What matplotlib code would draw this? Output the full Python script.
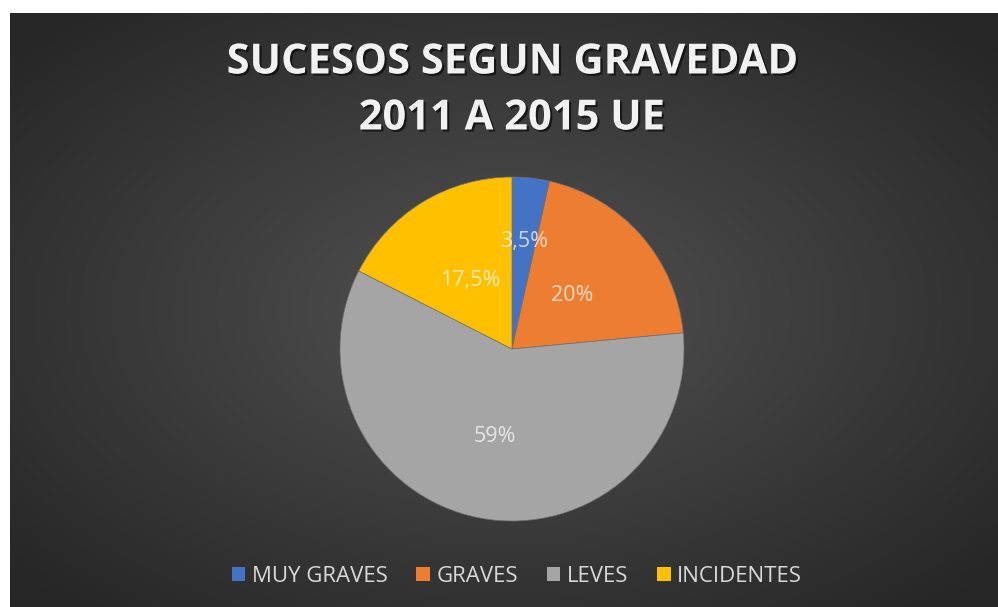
import numpy as np
import matplotlib
matplotlib.use('Agg')
import matplotlib.pyplot as plt
import matplotlib.patheffects as pe
from matplotlib.patches import Patch

# Data
categories = ['MUY GRAVES', 'GRAVES', 'LEVES', 'INCIDENTES']
shares = [3.5, 20, 59, 17.5]
colors = ['#4472C4', '#ED7D31', '#A5A5A5', '#FFC000']
title_lines = ['SUCESOS SEGUN GRAVEDAD', '2011 A 2015 UE']

W, H = 998, 607
fig = plt.figure(figsize=(W / 100, H / 100), dpi=100, facecolor='white')

# Dark radial gradient background (chart area leaves a white strip top/left)
bg = fig.add_axes([0, 0, 1, 1])
bg.set_xlim(0, W)
bg.set_ylim(H, 0)
bg.axis('off')
gx, gy = np.meshgrid(np.linspace(-1, 1, 500), np.linspace(-1, 1, 300))
rr = np.clip(np.sqrt(gx ** 2 + gy ** 2) / 1.35, 0, 1)
inner, outer = 0x52 / 255, 0x26 / 255
shade = inner + (outer - inner) * rr
bg.imshow(np.dstack([shade, shade, shade]), extent=(10, W, H, 13),
          aspect='auto', interpolation='bilinear', zorder=0)

# Title
title_fx = [pe.withSimplePatchShadow(offset=(1.5, -1.5), shadow_rgbFace='black', alpha=0.6)]
for line, ypix in zip(title_lines, [63, 119]):
    fig.text(512 / W, 1 - ypix / H, line, ha='center', va='center',
             fontsize=30, fontweight='bold', family='Open Sans',
             color='#F2F2F2', path_effects=title_fx)

# Pie
cx, cy, r = 512, 349, 172
ax = fig.add_axes([(cx - r) / W, 1 - (cy + r) / H, 2 * r / W, 2 * r / H])
ax.set_facecolor('none')
wedges, _ = ax.pie(shares, colors=colors, startangle=90, counterclock=False,
                   radius=1, wedgeprops=dict(linewidth=0.5, edgecolor='#707070'))
ax.set_xlim(-1, 1)
ax.set_ylim(-1, 1)
ax.set_aspect('equal')

label_dist = [0.63, 0.47, 0.52, 0.47]
for w, v, d in zip(wedges, shares, label_dist):
    mid = np.deg2rad((w.theta1 + w.theta2) / 2)
    txt = f'{v:g}%'.replace('.', ',')
    ax.text(d * np.cos(mid), d * np.sin(mid), txt, ha='center', va='center',
            fontsize=15.5, family='Open Sans', color='white', alpha=0.72)

# Legend
handles = [Patch(facecolor=c, edgecolor='none') for c in colors]
leg = fig.legend(handles, categories, loc='center', bbox_to_anchor=(517 / W, 1 - 576 / H),
                 ncol=4, frameon=False, handlelength=0.6, handleheight=0.6,
                 handletextpad=0.3, columnspacing=1.3,
                 prop=dict(family='Open Sans', size=16))
for t in leg.get_texts():
    t.set_color('#D9D9D9')

fig.savefig('out.png', dpi=100, facecolor='white')
